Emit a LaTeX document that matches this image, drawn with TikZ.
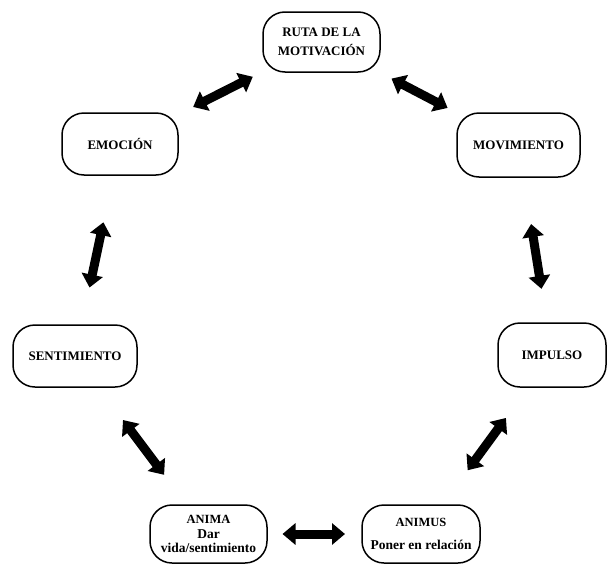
\documentclass[tikz,border=0pt]{standalone}
\usepackage{fontspec}
\setmainfont{Liberation Serif}
\usetikzlibrary{arrows.meta}
\begin{document}
\begin{tikzpicture}[x=1pt,y=-1pt,
  box/.style={draw, line width=1.5pt, rounded corners=22pt, inner sep=0pt, align=center,
    font=\bfseries\fontsize{13}{15}\selectfont},
  lowtext/.style={font=\bfseries\fontsize{13.5}{14.5}\selectfont},
  dbl/.style={line width=9pt, {Triangle[length=13pt,width=21pt]}-{Triangle[length=13pt,width=21pt]}}]
\useasboundingbox (0,0) rectangle (613,565);

\node[box, minimum width=117pt, minimum height=60pt] (ruta) at (321.5,42) {RUTA DE LA\\[4pt]MOTIVACIÓN};
\node[box, minimum width=116pt, minimum height=62pt] (emo) at (120,144) {EMOCIÓN};
\node[box, minimum width=123pt, minimum height=64pt] (mov) at (518.5,145) {MOVIMIENTO};
\node[box, minimum width=124pt, minimum height=62pt] (sent) at (75,356) {SENTIMIENTO};
\node[box, minimum width=108pt, minimum height=64pt] (imp) at (552,355) {IMPULSO};
\node[box, lowtext, minimum width=117pt, minimum height=58pt] (anima) at (208.5,534)
  {{\bfseries\fontsize{12.5}{14.5}\selectfont ANIMA}\\Dar\\vida/sentimiento};
\node[box, lowtext, minimum width=118pt, minimum height=58pt] (animus) at (421,534)
  {{\bfseries\fontsize{12.5}{14.5}\selectfont ANIMUS}\\[9pt]Poner en relación};

\draw[dbl, shorten <=77pt, shorten >=82pt] (ruta.center) -- (emo.center);
\draw[dbl, shorten <=79pt, shorten >=80pt] (ruta.center) -- (mov.center);
\draw[dbl, shorten <=80pt, shorten >=70pt] (emo.center) -- (sent.center);
\draw[dbl, shorten <=80pt, shorten >=67pt] (mov.center) -- (imp.center);
\draw[dbl, shorten <=80pt, shorten >=74pt] (sent.center) -- (anima.center);
\draw[dbl, shorten <=78pt, shorten >=79pt] (imp.center) -- (animus.center);
\draw[dbl, shorten <=74pt, shorten >=76pt] (anima.center) -- (animus.center);
\end{tikzpicture}
\end{document}
